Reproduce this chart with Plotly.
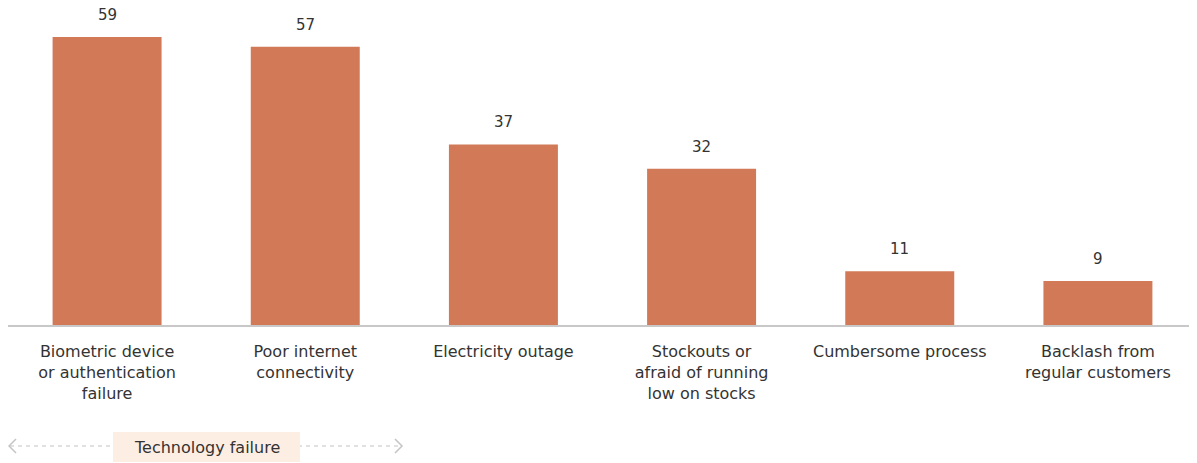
import plotly.graph_objects as go

categories = [
    "Biometric device<br>or authentication<br>failure",
    "Poor internet<br>connectivity",
    "Electricity outage",
    "Stockouts or<br>afraid of running<br>low on stocks",
    "Cumbersome process",
    "Backlash from<br>regular customers",
]
values = [59, 57, 37, 32, 11, 9]
group_label = "Technology failure"

# page is rendered with an 8px body margin
OFF = 8
W, H = 1197 - OFF, 463 - OFF
ML, MR, MT, MB = 0, 0, 0, 138
PW, PH = W - ML - MR, H - MT - MB

def px(X):  # page pixel -> paper
    return (X - OFF - ML) / PW

def py(Y):
    return (H - MB - (Y - OFF)) / PH

FONT = "DejaVu Sans"
BAR = "#d27a58"
TXT = "#333333"

fig = go.Figure()
fig.add_trace(go.Bar(
    x=list(range(len(categories))), y=values,
    marker=dict(color=BAR, line=dict(width=0)),
    hoverinfo="skip",
))

for i, v in enumerate(values):
    fig.add_annotation(x=i, y=v, text=str(v), showarrow=False,
                       yanchor="middle", yshift=22,
                       font=dict(family=FONT, size=15, color=TXT))

# group bracket
fig.add_shape(type="line", xref="paper", yref="paper",
              x0=px(10), x1=px(401), y0=py(446), y1=py(446),
              line=dict(color="#c4c4c4", width=1.2, dash="4px,4px"))
fig.add_shape(type="path", xref="paper", yref="paper",
              path=f"M {px(16)} {py(439)} L {px(9)} {py(446)} L {px(16)} {py(453)}",
              line=dict(color="#c4c4c4", width=1.5))
fig.add_shape(type="path", xref="paper", yref="paper",
              path=f"M {px(395)} {py(439)} L {px(402)} {py(446)} L {px(395)} {py(453)}",
              line=dict(color="#c4c4c4", width=1.5))
fig.add_shape(type="rect", xref="paper", yref="paper",
              x0=px(113), x1=px(300), y0=py(462), y1=py(432),
              fillcolor="#fdeee4", line=dict(width=0), layer="above")
fig.add_annotation(xref="paper", yref="paper", x=px(206.5), y=py(447),
                   text=group_label, showarrow=False,
                   xanchor="center", yanchor="middle",
                   font=dict(family=FONT, size=16, color=TXT))

fig.update_layout(
    width=W, height=H,
    margin=dict(l=ML, r=MR, t=MT, b=MB),
    paper_bgcolor="white", plot_bgcolor="white",
    bargap=0.45, showlegend=False,
    font=dict(family=FONT, size=15, color=TXT),
)
fig.update_xaxes(
    tickmode="array", tickvals=list(range(len(categories))), ticktext=categories,
    range=[-0.5, len(categories) - 0.5],
    showline=True, linecolor="#c8c8c8", linewidth=1.5,
    ticks="outside", ticklen=11, tickcolor="rgba(0,0,0,0)",
    showgrid=False, zeroline=False,
    tickfont=dict(family=FONT, size=16, color=TXT),
)
fig.update_yaxes(range=[0, 317 / 4.88], visible=False, showgrid=False, zeroline=False)

fig.write_html("out.html")
